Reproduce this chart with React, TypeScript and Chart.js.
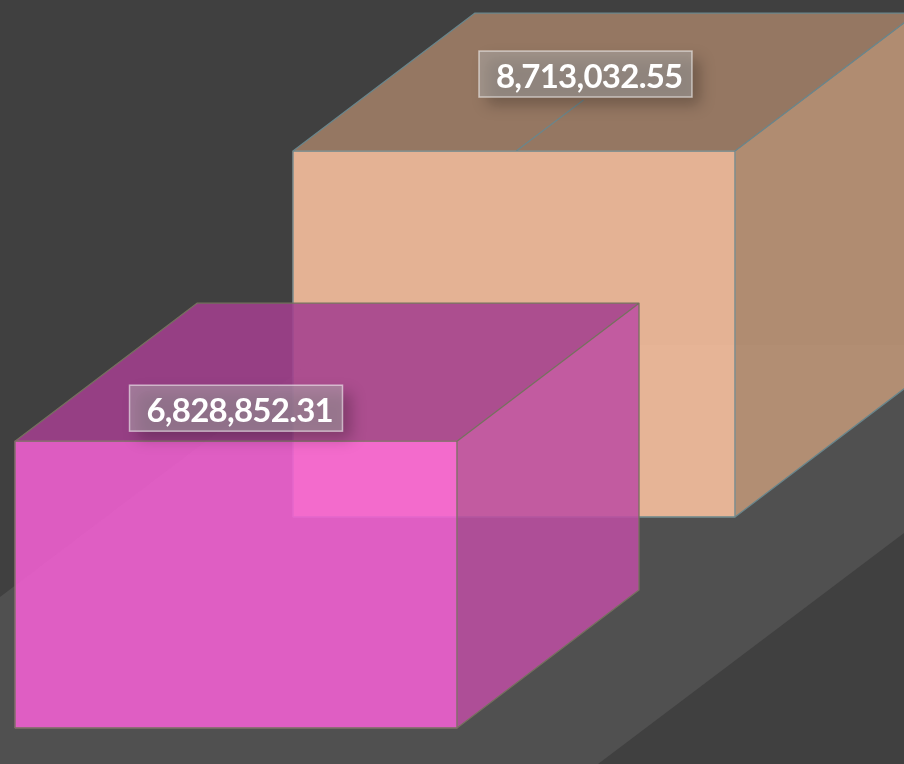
import React, { useEffect, useRef } from "react";
import { Chart, registerables } from "chart.js";

Chart.register(...registerables);

const categories = ["Total"];
const seriesNames = ["Series A", "Series B"];
const frontValues = [6828852.31];
const backValues = [8713032.55];

const W = 904;
const H = 764;
const BG = "#404040";
const FLOOR = "#505050";
const DEPTH = { dx: 182, dy: -138 };

type Look = {
  front: string;
  side: string;
  top: string;
  edge: string;
  shift: { x: number; y: number };
  label: { dx: number; dy: number };
};

const looks: Look[] = [
  {
    front: "rgba(245,97,212,0.87)",
    side: "rgba(188,78,162,0.87)",
    top: "rgba(163,63,143,0.87)",
    edge: "#76705f",
    shift: { x: 0, y: 0 },
    label: { dx: 0, dy: -33 },
  },
  {
    front: "rgba(253,195,161,0.87)",
    side: "rgba(193,152,121,0.87)",
    top: "rgba(162,128,103,0.87)",
    edge: "#6a868c",
    shift: { x: 278, y: -211 },
    label: { dx: 71.5, dy: -77 },
  },
];

const fmt = (v: number) =>
  v.toLocaleString("en-US", { minimumFractionDigits: 2, maximumFractionDigits: 2 });

const floorPlugin = {
  id: "floor",
  beforeDatasetsDraw(chart: any) {
    const { ctx } = chart;
    ctx.save();
    ctx.fillStyle = FLOOR;
    ctx.beginPath();
    ctx.moveTo(0, 597);
    ctx.lineTo(333, 345);
    ctx.lineTo(1153, 345);
    ctx.lineTo(598, 764);
    ctx.lineTo(0, 764);
    ctx.closePath();
    ctx.fill();
    ctx.restore();
  },
};

const boxPlugin = {
  id: "box",
  beforeDatasetDraw(chart: any, args: any) {
    const { ctx } = chart;
    const look = looks[args.index];
    const bar = chart.getDatasetMeta(args.index).data[0];
    const l = bar.x - bar.width / 2;
    const r = bar.x + bar.width / 2;
    const t = bar.y;
    const b = bar.base;
    ctx.save();
    ctx.translate(look.shift.x, look.shift.y);
    ctx.fillStyle = look.top;
    ctx.beginPath();
    ctx.moveTo(l, t);
    ctx.lineTo(l + DEPTH.dx, t + DEPTH.dy);
    ctx.lineTo(r + DEPTH.dx, t + DEPTH.dy);
    ctx.lineTo(r, t);
    ctx.closePath();
    ctx.fill();
    ctx.fillStyle = look.side;
    ctx.beginPath();
    ctx.moveTo(r, t);
    ctx.lineTo(r + DEPTH.dx, t + DEPTH.dy);
    ctx.lineTo(r + DEPTH.dx, b + DEPTH.dy);
    ctx.lineTo(r, b);
    ctx.closePath();
    ctx.fill();
  },
  afterDatasetDraw(chart: any, args: any) {
    const { ctx } = chart;
    const look = looks[args.index];
    const bar = chart.getDatasetMeta(args.index).data[0];
    const l = bar.x - bar.width / 2;
    const r = bar.x + bar.width / 2;
    const t = bar.y;
    const b = bar.base;
    ctx.strokeStyle = look.edge;
    ctx.lineWidth = 1.3;
    ctx.lineJoin = "round";
    ctx.beginPath();
    ctx.moveTo(l, b);
    ctx.lineTo(l, t);
    ctx.lineTo(l + DEPTH.dx, t + DEPTH.dy);
    ctx.lineTo(r + DEPTH.dx, t + DEPTH.dy);
    ctx.lineTo(r + DEPTH.dx, b + DEPTH.dy);
    ctx.lineTo(r, b);
    ctx.lineTo(l, b);
    ctx.moveTo(l, t);
    ctx.lineTo(r, t);
    ctx.lineTo(r, b);
    ctx.moveTo(r, t);
    ctx.lineTo(r + DEPTH.dx, t + DEPTH.dy);
    if (args.index === 1) {
      // the faint inner edge seen on the top face of the rear box
      const mx = l + (r - l) * 0.505;
      ctx.moveTo(mx, t);
      ctx.lineTo(mx + DEPTH.dx * 0.37, t + DEPTH.dy * 0.37);
    }
    ctx.stroke();
    ctx.restore();
  },
};

const labelPlugin = {
  id: "valueLabels",
  afterDatasetsDraw(chart: any) {
    const { ctx } = chart;
    [1, 0].forEach((i) => {
      const look = looks[i];
      const bar = chart.getDatasetMeta(i).data[0];
      const value = chart.data.datasets[i].data[0] as number;
      const cx = bar.x + look.shift.x + look.label.dx;
      const cy = bar.y + look.shift.y + look.label.dy;
      const bw = 213;
      const bh = 46;
      const x = cx - bw / 2;
      const y = cy - bh / 2;
      ctx.save();
      // soft drop shadow, offset down and to the right
      ctx.save();
      ctx.shadowColor = "rgba(0,0,0,0.25)";
      ctx.shadowBlur = 14;
      ctx.shadowOffsetX = 2000 + 8;
      ctx.shadowOffsetY = 8;
      ctx.fillStyle = "#000";
      ctx.fillRect(x - 2000, y, bw, bh);
      ctx.restore();
      ctx.fillStyle = "rgba(172,172,172,0.52)";
      ctx.fillRect(x, y, bw, bh);
      ctx.strokeStyle = "rgba(255,255,255,0.55)";
      ctx.lineWidth = 1.5;
      ctx.strokeRect(x, y, bw, bh);
      ctx.fillStyle = "#ffffff";
      ctx.font = "700 33px Lato";
      (ctx as any).letterSpacing = "-0.75px";
      ctx.textAlign = "right";
      ctx.textBaseline = "alphabetic";
      ctx.fillText(fmt(value), x + bw - 9.5, cy + 13.5);
      ctx.restore();
    });
  },
};

export default function App() {
  const ref = useRef<HTMLCanvasElement | null>(null);
  useEffect(() => {
    if (!ref.current) return;
    const chart = new Chart(ref.current, {
      type: "bar",
      data: {
        labels: categories,
        datasets: [
          { label: seriesNames[0], data: frontValues, backgroundColor: looks[0].front, clip: false as any },
          { label: seriesNames[1], data: backValues, backgroundColor: looks[1].front, clip: false as any },
        ],
      },
      options: {
        animation: false,
        responsive: false,
        devicePixelRatio: 1,
        layout: { padding: { left: 15, right: 447, top: 308, bottom: 36 } },
        datasets: { bar: { grouped: false, categoryPercentage: 1, barPercentage: 1, borderWidth: 0 } },
        plugins: { legend: { display: false }, tooltip: { enabled: false } },
        scales: {
          x: { display: false },
          y: { display: false, min: 0, max: 10000000 },
        },
      },
      plugins: [floorPlugin, boxPlugin, labelPlugin],
    });
    return () => chart.destroy();
  }, []);
  return (
    <div style={{ position: "absolute", left: 0, top: 0, width: W, height: H, background: BG, overflow: "hidden" }}>
      <canvas ref={ref} width={W} height={H} style={{ display: "block" }} />
    </div>
  );
}
